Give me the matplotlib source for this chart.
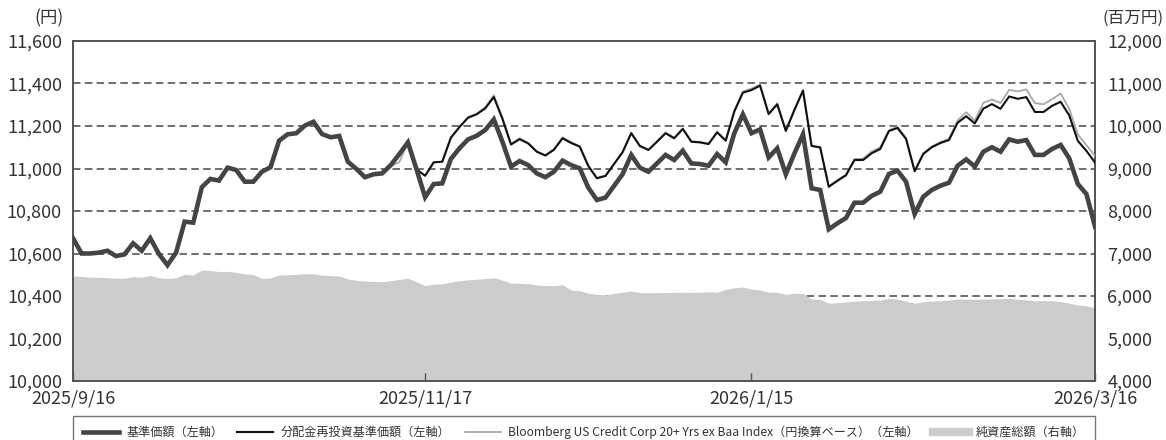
import numpy as np
import matplotlib
matplotlib.use("Agg")
import matplotlib.pyplot as plt
from matplotlib.lines import Line2D

plt.rcParams['font.family'] = ['Noto Sans CJK JP', 'DejaVu Sans']

# x軸の目盛 (営業日インデックス)
tick_pos = [0, 41, 79, 119]
tick_labels = ["2025/9/16", "2025/11/17", "2026/1/15", "2026/3/16"]

# 基準価額 (円)
nav_price = [
    10672, 10600, 10600, 10604, 10613, 10588, 10596, 10648, 10613, 10672,
    10598, 10545, 10604, 10750, 10745, 10912, 10951, 10943, 11004, 10993,
    10938, 10938, 10985, 11006, 11131, 11161, 11166, 11202, 11220, 11162,
    11147, 11153, 11032, 10998, 10959, 10973, 10977, 11016, 11068, 11123,
    10996, 10865, 10927, 10930, 11045, 11095, 11137, 11154, 11181, 11231,
    11126, 11009, 11035, 11016, 10977, 10959, 10985, 11037, 11016, 11001,
    10910, 10852, 10863, 10918, 10974, 11064, 11004, 10985, 11024, 11064,
    11040, 11084, 11024, 11021, 11013, 11068, 11029, 11166, 11255, 11166,
    11184, 11052, 11095, 10973, 11071, 11161, 10907, 10899, 10714, 10742,
    10767, 10839, 10839, 10871, 10891, 10974, 10990, 10938, 10786, 10867,
    10899, 10919, 10933, 11013, 11043, 11009, 11079, 11100, 11079, 11137,
    11126, 11134, 11064, 11064, 11092, 11111, 11048, 10927, 10880, 10727,
]

# 分配金再投資基準価額 (円)
reinvest = [
    10672, 10600, 10600, 10604, 10613, 10588, 10596, 10648, 10613, 10672,
    10598, 10545, 10604, 10750, 10745, 10912, 10951, 10943, 11004, 10993,
    10938, 10938, 10985, 11006, 11131, 11161, 11166, 11202, 11220, 11162,
    11147, 11153, 11032, 10998, 10959, 10973, 10977, 11016, 11068, 11123,
    10996, 10966, 11029, 11032, 11145, 11195, 11239, 11255, 11283, 11336,
    11234, 11113, 11138, 11118, 11079, 11061, 11088, 11142, 11120, 11103,
    11012, 10954, 10965, 11021, 11077, 11166, 11106, 11087, 11126, 11166,
    11142, 11186, 11126, 11123, 11115, 11170, 11131, 11268, 11357, 11369,
    11390, 11256, 11302, 11177, 11275, 11366, 11106, 11099, 10914, 10942,
    10968, 11040, 11040, 11072, 11092, 11176, 11191, 11139, 10987, 11068,
    11100, 11120, 11134, 11215, 11246, 11212, 11282, 11303, 11281, 11339,
    11328, 11336, 11266, 11266, 11295, 11314, 11250, 11130, 11083, 11028,
]

# Bloomberg US Credit Corp 20+ Yrs ex Baa Index (円換算ベース)
bench = [
    10672, 10600, 10600, 10604, 10613, 10588, 10596, 10648, 10613, 10672,
    10598, 10545, 10604, 10750, 10745, 10912, 10951, 10943, 11004, 10993,
    10938, 10938, 10985, 11006, 11131, 11161, 11166, 11202, 11220, 11162,
    11147, 11153, 11032, 10998, 10959, 10973, 10977, 11012, 11030, 11123,
    10996, 10966, 11029, 11032, 11145, 11195, 11242, 11258, 11288, 11345,
    11238, 11115, 11142, 11121, 11081, 11063, 11092, 11147, 11124, 11105,
    11014, 10956, 10967, 11023, 11079, 11169, 11108, 11089, 11128, 11169,
    11145, 11189, 11128, 11125, 11117, 11173, 11133, 11272, 11362, 11376,
    11396, 11260, 11306, 11180, 11279, 11371, 11109, 11101, 10916, 10945,
    10971, 11044, 11046, 11080, 11100, 11180, 11196, 11143, 10990, 11072,
    11104, 11124, 11140, 11226, 11265, 11225, 11309, 11325, 11308, 11370,
    11363, 11372, 11308, 11302, 11326, 11353, 11281, 11160, 11110, 11059,
]

# 純資産総額 (百万円)
net_assets = [
    6470, 6460, 6445, 6440, 6430, 6420, 6420, 6455, 6440, 6485,
    6430, 6410, 6430, 6510, 6495, 6610, 6600, 6575, 6580, 6555,
    6520, 6505, 6415, 6425, 6495, 6500, 6510, 6525, 6520, 6490,
    6480, 6470, 6400, 6370, 6350, 6345, 6335, 6360, 6390, 6415,
    6335, 6245, 6280, 6285, 6330, 6360, 6380, 6395, 6410, 6430,
    6375, 6300, 6300, 6290, 6260, 6245, 6245, 6265, 6140, 6125,
    6065, 6040, 6025, 6060, 6090, 6120, 6080, 6075, 6078, 6080,
    6085, 6087, 6085, 6087, 6100, 6090, 6155, 6195, 6210, 6165,
    6140, 6090, 6087, 6040, 6065, 6060, 5930, 5920, 5830, 5840,
    5860, 5880, 5888, 5895, 5905, 5945, 5925, 5880, 5830, 5865,
    5880, 5890, 5905, 5928, 5925, 5922, 5928, 5932, 5937, 5945,
    5925, 5910, 5890, 5890, 5890, 5870, 5830, 5790, 5770, 5720,
]

x = np.arange(len(nav_price))
txt = '#333333'
edge = '#555555'

fig = plt.figure(figsize=(11.66, 4.4), dpi=100)
ax = fig.add_axes([73 / 1166, 1 - 381 / 440, 1022 / 1166, 340 / 440])
ax2 = ax.twinx()

# 純資産総額 (右軸) と目盛線
ax2.fill_between(x, 4000, net_assets, color='#cccccc', lw=0, zorder=2)
ax2.set_ylim(4000, 12000)
ax2.set_yticks(np.arange(4000, 12001, 1000))
ax2.set_yticklabels([f"{v:,}" for v in range(4000, 12001, 1000)])
ax2.set_axisbelow(True)
ax2.yaxis.grid(True, color=edge, lw=1.2, ls=(0, (4.5, 2.6)))
ax2.tick_params(axis='y', length=0, pad=9, labelsize=13, labelcolor=txt)

# 基準価額など (左軸)
ax.set_zorder(ax2.get_zorder() + 1)
ax.patch.set_visible(False)
l3, = ax.plot(x, bench, color='#a8a8a8', lw=1.3, zorder=3)
l2, = ax.plot(x, reinvest, color='#111111', lw=1.5, zorder=4)
l1, = ax.plot(x, nav_price, color='#444444', lw=3.3, zorder=5,
              solid_joinstyle='miter')
ax.set_ylim(10000, 11600)
ax.set_yticks(np.arange(10000, 11601, 200))
ax.set_yticklabels([f"{v:,}" for v in range(10000, 11601, 200)])
ax.set_xlim(0, len(x) - 1)
ax.set_xticks(tick_pos)
ax.set_xticklabels(tick_labels)
ax.tick_params(axis='y', length=0, pad=8, labelsize=13, labelcolor=txt)
ax.tick_params(axis='x', direction='in', length=6, width=1, color=edge,
               pad=6, labelsize=13, labelcolor=txt)
ax2.tick_params(axis='x', length=0)

for a in (ax, ax2):
    for s in a.spines.values():
        s.set_color(edge)
        s.set_linewidth(1.3)

fig.text(49 / 1166, 1 - 18 / 440, "(円)", ha='center', va='center',
         fontsize=12.5, color=txt)
fig.text(1164 / 1166, 1 - 18 / 440, "(百万円)", ha='right', va='center',
         fontsize=12, color=txt)

area_h = Line2D([], [], color='#cccccc', lw=6)
labels = ["基準価額（左軸）", "分配金再投資基準価額（左軸）",
          "Bloomberg US Credit Corp 20+ Yrs ex Baa Index（円換算ベース）（左軸）",
          "純資産総額（右軸）"]
leg = ax.legend([l1, l2, l3, area_h], labels, loc='upper left',
                bbox_to_anchor=(0, -0.103, 1, 0), mode='expand', ncol=4,
                fontsize=8.7, frameon=True, fancybox=False,
                handlelength=3.0, handletextpad=0.6, columnspacing=1.0,
                borderpad=0.8, borderaxespad=0)
leg.get_frame().set_edgecolor(edge)
leg.get_frame().set_linewidth(1.0)
for t in leg.get_texts():
    t.set_color(txt)

fig.savefig("out.png", dpi=100)
